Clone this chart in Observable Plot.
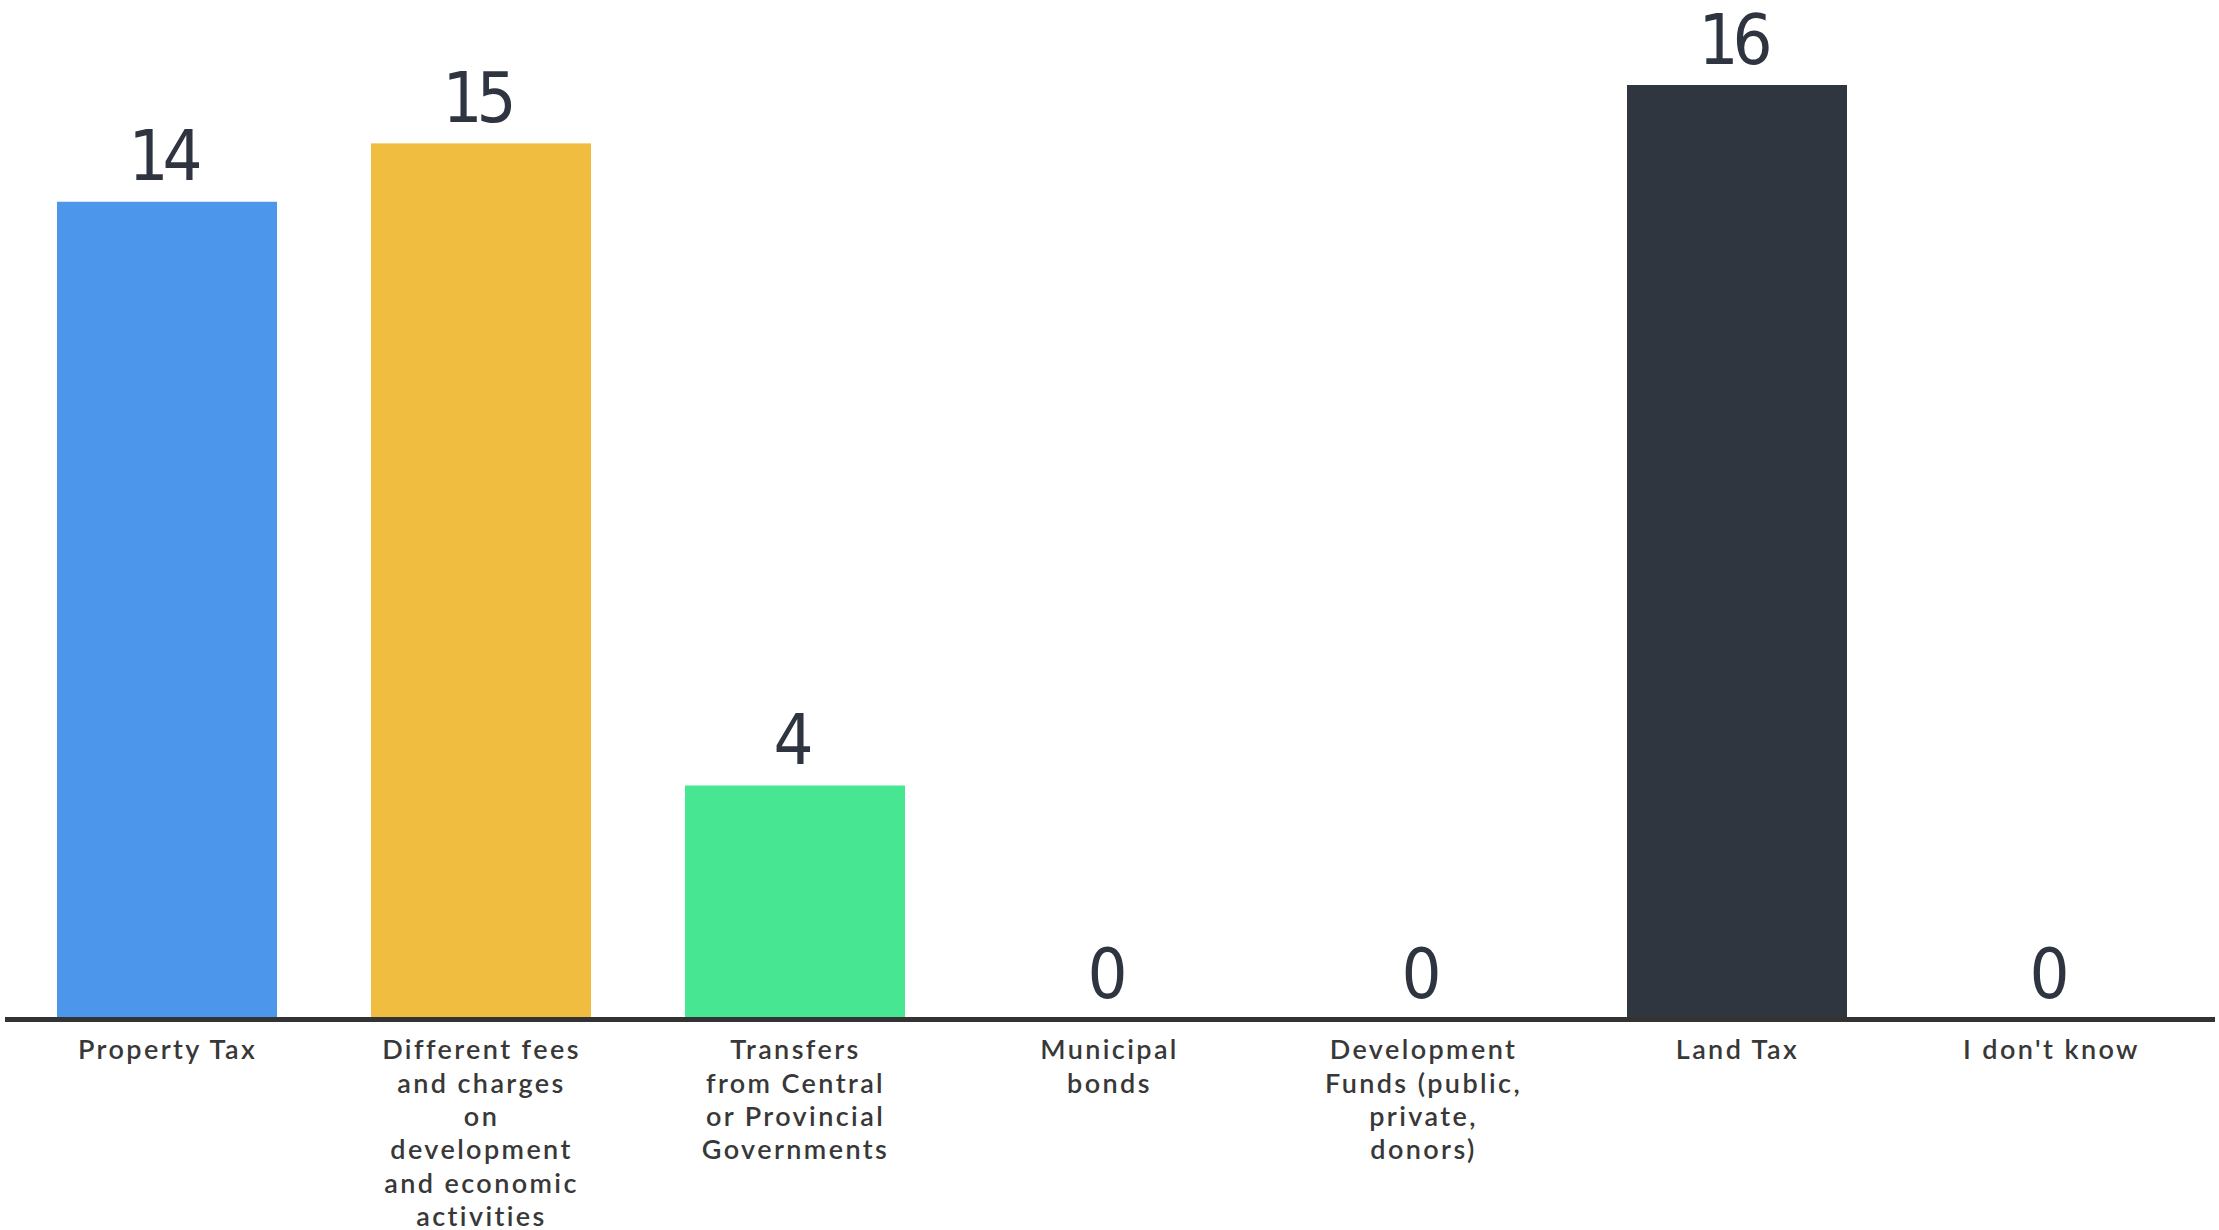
<!DOCTYPE html>
<html>
<head>
<meta charset="utf-8">
<script src="https://cdn.jsdelivr.net/npm/d3@7"></script>
<script src="https://cdn.jsdelivr.net/npm/@observablehq/plot@0.6"></script>
<style>
  html, body { margin: 0; padding: 0; background: #ffffff; }
  #chart g[aria-label="x-axis tick label"] text { letter-spacing: 2.4px; font-weight: 600; }
  #chart g[aria-label="text"] text { letter-spacing: -6px; font-weight: 500; }
</style>
</head>
<body>
<div id="chart"></div>
<script>
const categories = [
  "Property Tax",
  "Different fees and charges on development and economic activities",
  "Transfers from Central or Provincial Governments",
  "Municipal bonds",
  "Development Funds (public, private, donors)",
  "Land Tax",
  "I don't know"
];
const tickLabels = [
  "Property Tax",
  "Different fees\nand charges\non\ndevelopment\nand economic\nactivities",
  "Transfers\nfrom Central\nor Provincial\nGovernments",
  "Municipal\nbonds",
  "Development\nFunds (public,\nprivate,\ndonors)",
  "Land Tax",
  "I don't know"
];
const values = [14, 15, 4, 0, 0, 16, 0];
const colors = ["#4C97EC", "#F0BD41", "#46E692", "#E0E0E0", "#E0E0E0", "#2F3640", "#E0E0E0"];

const data = categories.map((c, i) => ({category: c, value: values[i], color: colors[i]}));
const labelOf = new Map(categories.map((c, i) => [c, tickLabels[i]]));

const chart = Plot.plot({
  width: 2219,
  height: 1230,
  marginLeft: 7,
  marginRight: 8,
  marginTop: 85,
  marginBottom: 211,
  style: {background: "#ffffff", overflow: "visible"},
  x: {domain: categories, paddingInner: 0.3, paddingOuter: 0.15, label: null},
  y: {domain: [0, 16], axis: null, label: null},
  marks: [
    Plot.barY(data, {x: "category", y: "value", fill: "color"}),
    Plot.ruleY([0], {stroke: "#333333", strokeWidth: 5, insetLeft: -2, insetRight: -4}),
    Plot.text(data, {
      x: "category", y: "value", text: d => String(d.value),
      lineAnchor: "bottom", dy: -22, dx: -5,
      fontSize: 70, fill: "#2F3540",
      fontFamily: "'DejaVu Sans Condensed', 'Liberation Sans Narrow', sans-serif"
    }),
    Plot.axisX({
      tickSize: 0, tickPadding: 16,
      tickFormat: d => labelOf.get(d),
      fontSize: 27, lineHeight: 1.235,
      fill: "#383838",
      fontFamily: "Lato, 'Open Sans', sans-serif",
      label: null
    })
  ]
});
document.getElementById("chart").appendChild(chart);
</script>
</body>
</html>
